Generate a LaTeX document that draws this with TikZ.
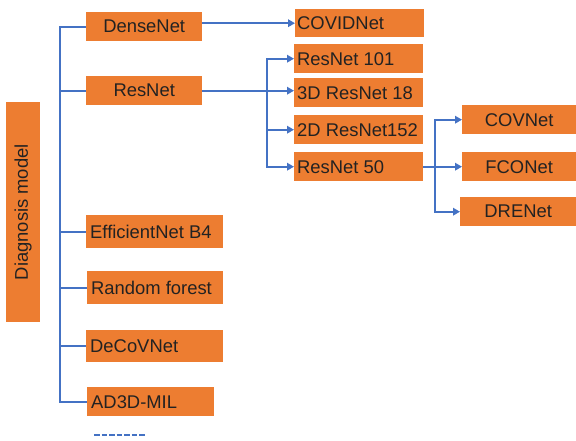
\documentclass[tikz,border=0pt]{standalone}
\usepackage{fontspec}
\setmainfont{Liberation Sans}
\usetikzlibrary{arrows.meta}
\definecolor{boxor}{HTML}{ED7D31}
\definecolor{lnblue}{HTML}{4472C4}
\definecolor{txt}{HTML}{222222}
\newcommand\lbtext[2]{\makebox[#1][l]{#2}}
\begin{document}
\begin{tikzpicture}[x=1pt,y=-1pt,
  every node/.style={font=\fontsize{18.4}{20}\selectfont, text=txt},
  cbox/.style={fill=boxor, inner sep=0pt, anchor=north west, align=center},
  lbox/.style={fill=boxor, inner sep=0pt, inner xsep=4pt, anchor=north west},
  ln/.style={draw=lnblue, line width=2.4pt},
  arr/.style={ln, -{Triangle[length=7pt,width=7.5pt]}}]
\useasboundingbox (0,0) rectangle (576,440);
% root
\node[fill=boxor, minimum width=34pt, minimum height=220pt, inner sep=0pt, anchor=north west] (root) at (6,102) {};
\node[rotate=90] (rootlbl) at (root.center) {Diagnosis model};
% first level
\node[cbox, minimum width=116pt, minimum height=29pt] (dense) at (86,12) {DenseNet};
\node[cbox, minimum width=116pt, minimum height=29pt] (res) at (86,76) {ResNet};
\node[lbox, minimum height=33pt] (eff) at (86,215) {\lbtext{129pt}{EfficientNet B4}};
\node[lbox, minimum height=33pt] (rf) at (87,271) {\lbtext{128pt}{Random forest}};
\node[lbox, minimum height=32pt] (deco) at (86,330) {\lbtext{129pt}{DeCoVNet}};
\node[lbox, minimum height=29pt] (ad) at (87,387) {\lbtext{119pt}{AD3D-MIL}};
% trunk
\coordinate (t) at (60,0);
\draw[ln] (dense.west) -- (dense.west -| t) -- (ad.west -| t) -- (ad.west);
\foreach \n in {res,eff,rf,deco} \draw[ln] (\n.west -| t) -- (\n.west);
% dashed
\coordinate (d1) at (94,435);
\coordinate (d2) at (146,435);
\draw[ln, dash pattern=on 5.5pt off 2pt] (d1) -- (d2);
% second level
\node[lbox, inner xsep=2pt, minimum height=28pt] (covid) at (295,9) {\lbtext{125pt}{COVIDNet}};
\node[lbox, inner xsep=3pt, minimum height=29pt] (r101) at (294,44) {\lbtext{123pt}{ResNet 101}};
\node[lbox, inner xsep=3pt, minimum height=29pt] (r18) at (294,78) {\lbtext{123pt}{3D ResNet 18}};
\node[lbox, inner xsep=3pt, minimum height=29pt] (r152) at (294,115) {\lbtext{123pt}{2D ResNet152}};
\node[lbox, inner xsep=3pt, minimum height=29pt] (r50) at (294,152) {\lbtext{123pt}{ResNet 50}};
\draw[arr] (dense.east |- covid.west) -- (covid.west);
\coordinate (rj) at (267,0);
\draw[arr] (res.east) -- (res.east -| r18.west);
\draw[arr] (res.east -| rj) |- (r101.west);
\draw[arr] (res.east -| rj) |- (r152.west);
\draw[arr] (res.east -| rj) |- (r50.west);
% third level
\node[cbox, minimum width=114pt, minimum height=29pt] (cov) at (462,105) {COVNet};
\node[cbox, minimum width=114pt, minimum height=29pt] (fco) at (462,152) {FCONet};
\node[cbox, minimum width=116pt, minimum height=29pt] (dre) at (460,197) {DRENet};
\coordinate (sj) at (435,0);
\draw[arr] (r50.east) -- (fco.west);
\draw[arr] (r50.east -| sj) |- (cov.west);
\draw[arr] (r50.east -| sj) |- (dre.west);
\end{tikzpicture}
\end{document}
